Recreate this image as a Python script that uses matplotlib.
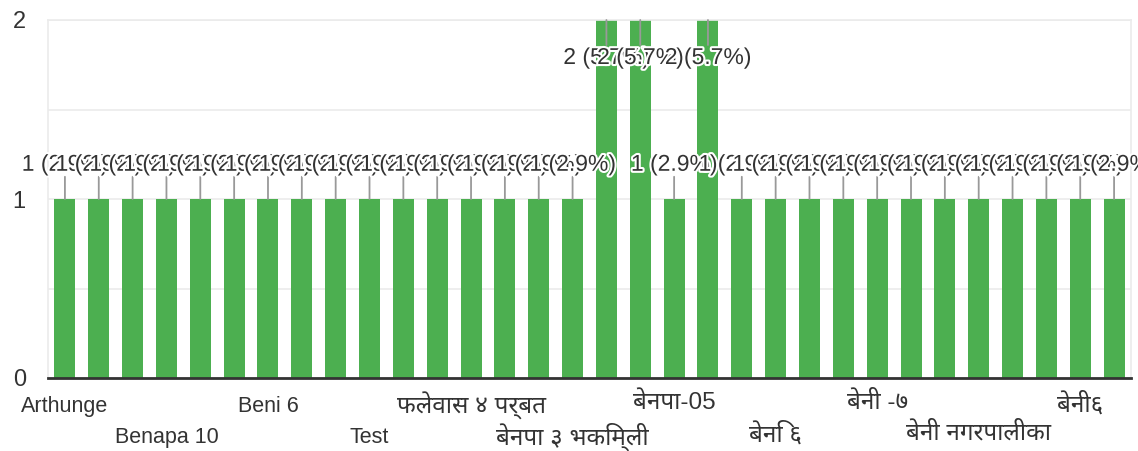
import os

import matplotlib
matplotlib.use("Agg")
import matplotlib.pyplot as plt
import matplotlib.patheffects as pe
import numpy as np
from matplotlib import font_manager

# ---- data ----
counts = [1, 1, 1, 1, 1, 1, 1, 1, 1, 1, 1, 1, 1, 1, 1, 1,
          2, 2, 1, 2,
          1, 1, 1, 1, 1, 1, 1, 1, 1, 1, 1, 1]
# only every third category name is shown on the axis
shown_labels = ["Arthunge", "Benapa 10", "Beni 6", "Test", "फलेवास ४ पर्बत",
                "बेनपा ३ भकिम्ली", "बेनपा-05", "बेनि ६", "बेनी -७",
                "बेनी नगरपालीका", "बेनी६"]
label_step = 3
y_ticks = [0, 1, 2]

BAR = "#4caf50"
TEXT = "#333333"
GRID = "#ebebeb"


def find_devanagari_family():
    wanted = ["NotoSansDevanagari-Regular", "NotoSansDevanagari[", "NotoSansDevanagariUI-Regular",
              "Hind-Regular", "Mukta-Regular"]
    files = font_manager.findSystemFonts()
    for key in wanted:
        for path in files:
            if os.path.basename(path).startswith(key):
                font_manager.fontManager.addfont(path)
                return font_manager.FontProperties(fname=path).get_name()
    return None


def has_devanagari(s):
    return any(0x0900 <= ord(ch) <= 0x097F for ch in s)


families = ["Liberation Sans", "DejaVu Sans"]
deva = find_devanagari_family()
if deva:
    families.insert(1, deva)
plt.rcParams["font.family"] = families

total = sum(counts)
x = np.arange(len(counts))

fig = plt.figure(figsize=(11.38, 4.51), dpi=100)
ax = fig.add_axes([48 / 1138, 73 / 451, 1083 / 1138, 358 / 451])

ax.bar(x, counts, width=0.62, color=BAR, zorder=2)

grid_vals = np.arange(0, max(counts) + 0.01, 0.5)
ax.set_xlim(-0.5, len(counts) - 0.5)
ax.set_ylim(0, max(counts))
ax.set_yticks(grid_vals)
ax.set_yticklabels([str(int(v)) if v in y_ticks else "" for v in grid_vals])
ax.grid(axis="y", color=GRID, lw=1.2, zorder=0)
ax.tick_params(axis="y", length=0, pad=16, labelsize=17, labelcolor=TEXT)

ax.set_xticks(x[::label_step])
ax.set_xticklabels(shown_labels, fontsize=15.5, color=TEXT)
ax.tick_params(axis="x", length=0)
# alternate the names over two rows, like the auto-skipped axis in the original
for i, (t, name) in enumerate(zip(ax.xaxis.get_major_ticks(), shown_labels)):
    pad = 13 if i % 2 == 0 else 35
    if has_devanagari(name):
        t.label1.set_fontsize(17.5)
        pad -= 3
    t.set_pad(pad)

for side in ["left", "right", "top"]:
    ax.spines[side].set_color(GRID)
    ax.spines[side].set_linewidth(1.2)
ax.spines["bottom"].set_color(TEXT)
ax.spines["bottom"].set_linewidth(2)
ax.spines["bottom"].set_zorder(4)

stroke = [pe.withStroke(linewidth=3, foreground="white")]
top = max(counts)
for xi, c in zip(x, counts):
    label = f"{c} ({c / total * 100:.1f}%)"
    if c == top:
        # label pushed inside the plot area
        line_off, text_off = -18, -27
    else:
        line_off, text_off = 16, 25
    ax.annotate("", xy=(xi, c), xytext=(0, line_off), textcoords="offset points",
                arrowprops=dict(arrowstyle="-", color="#999999", lw=1.3, shrinkA=0, shrinkB=0),
                zorder=3)
    ax.annotate(label, xy=(xi, c), xytext=(0, text_off), textcoords="offset points",
                ha="center", va="center", fontsize=16.5, color=TEXT,
                path_effects=stroke, zorder=5)

fig.savefig("out.png", dpi=100)
